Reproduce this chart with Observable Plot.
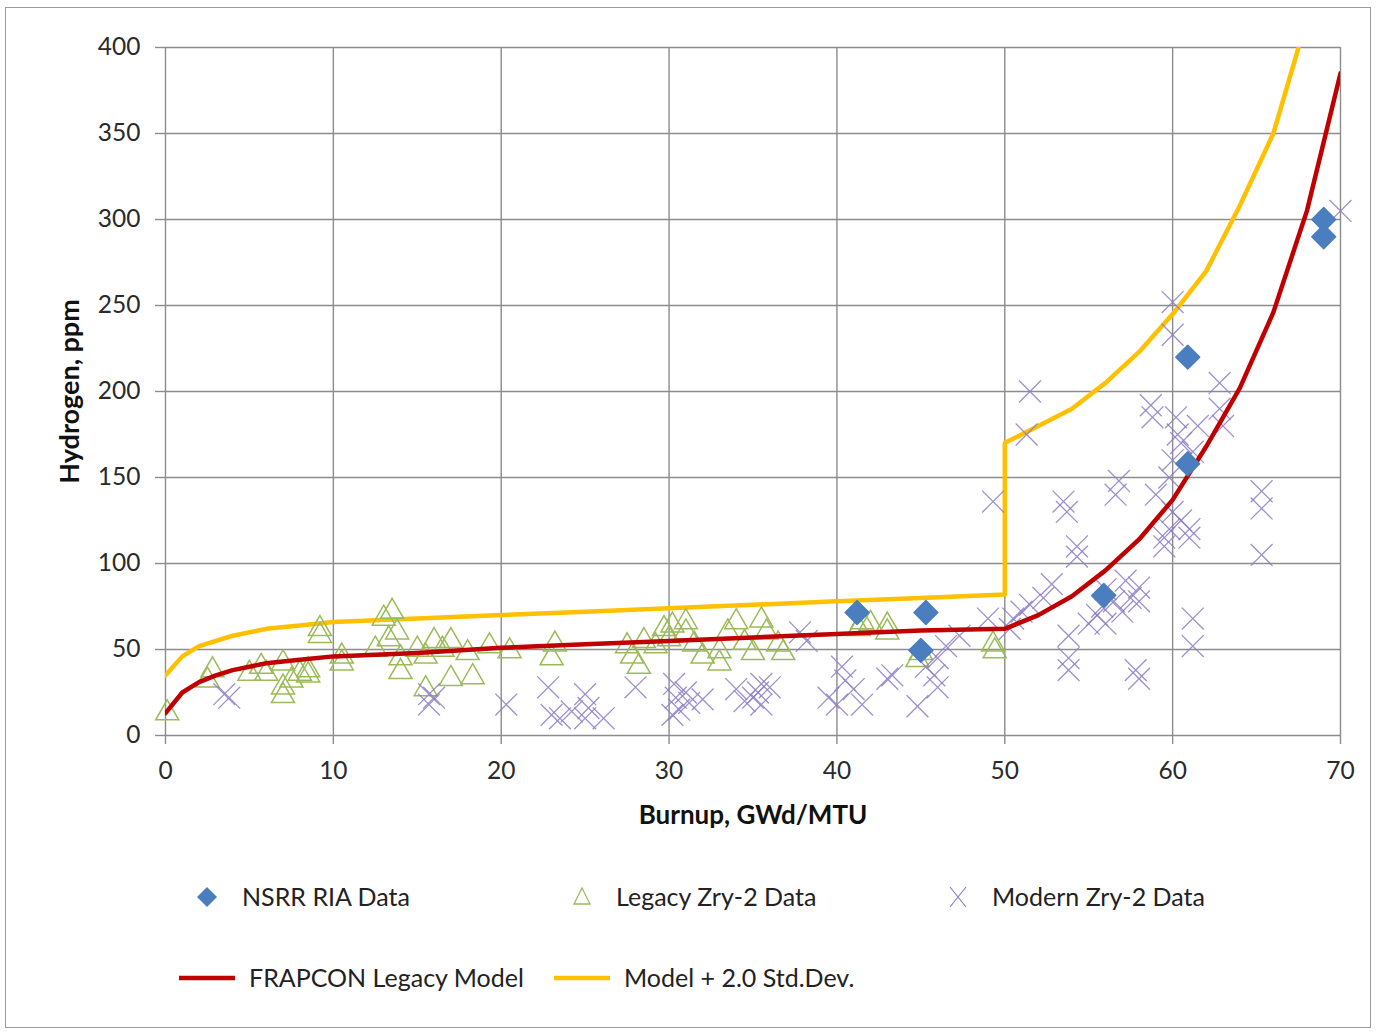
<!DOCTYPE html>
<html>
<head>
<meta charset="utf-8">
<script src="https://cdn.jsdelivr.net/npm/d3@7"></script>
<script src="https://cdn.jsdelivr.net/npm/@observablehq/plot@0.6"></script>
<style>
  html, body { margin: 0; padding: 0; background: #fff; }
  body { width: 1379px; height: 1034px; position: relative; overflow: hidden; font-family: Lato, "Open Sans", sans-serif; }
  #frame { position: absolute; left: 5px; top: 7px; width: 1366px; height: 1021px; border: 1px solid #9a9a9a; box-sizing: border-box; }
  #chart { position: absolute; left: 0; top: 0; }
  .leg { position: absolute; font-size: 25px; color: #222; white-space: nowrap; line-height: 1; }
  .legsym { position: absolute; }
</style>
</head>
<body>
<div id="frame"></div>
<div id="chart"></div>
<div id="legend"></div>
<script>
// ---- Tick labels ----
const xTicks = [0, 10, 20, 30, 40, 50, 60, 70];
const yTicks = [0, 50, 100, 150, 200, 250, 300, 350, 400];

// ---- Series: NSRR RIA Data (burnup, hydrogen) ----
const nsrrBurnup = [41.2, 45.3, 45.0, 55.9, 60.9, 60.9, 69.0, 69.0];
const nsrrH      = [71.5, 71.5, 49.5, 81.5, 220, 158, 300, 290];

// ---- Series: Legacy Zry-2 Data ----
const legacyBurnup = [0.1, 2.5, 2.8, 5.0, 5.7, 6.0, 7.0, 7.0, 7.0, 7.5, 8.0, 8.5, 8.5, 9.2, 9.2,
  10.5, 10.5, 12.5, 13.0, 13.5, 13.3, 13.8, 14.0, 14.0, 15.0, 15.5, 15.5, 16.0, 16.5, 17.0, 17.0,
  18.0, 18.3, 19.3, 20.5, 23.0, 23.2, 27.5, 27.8, 28.2, 28.5, 29.2, 29.7, 30.2, 30.0, 31.0, 31.0,
  31.5, 32.0, 33.0, 33.0, 33.5, 34.0, 34.5, 35.0, 35.5, 35.8, 36.5, 36.8, 41.3, 41.5, 42.0, 43.0,
  43.0, 44.8, 45.0, 49.3, 49.4];
const legacyH = [13, 32, 38, 36, 40, 36, 42, 28, 23, 32, 36, 38, 35, 62, 58,
  46, 42, 50, 68, 72, 56, 60, 45, 37, 50, 46, 27, 55, 50, 55, 33,
  48, 34, 52, 49, 45, 53, 52, 46, 40, 55, 52, 62, 64, 56, 66, 60,
  53, 46, 49, 42, 60, 66, 54, 48, 67, 60, 53, 48, 62, 66, 65, 60,
  64, 44, 48, 53, 49];

// ---- Series: Modern Zry-2 Data ----
const modernBurnup = [3.5, 3.8, 15.7, 15.7, 16.0, 20.3, 22.8, 23.0, 23.5, 24.2, 25.0, 25.2, 25.0, 26.1,
  28.0, 30.3, 30.4, 30.6, 31.0, 31.2, 32.0, 30.2, 34.0, 34.5, 35.0, 35.3, 35.5, 36.0, 35.5,
  37.8, 38.2, 39.5, 40.0, 40.3, 40.5, 41.0, 41.5, 43.0, 43.3, 44.8, 45.3, 45.8, 46.0, 46.0, 46.5,
  47.3, 49.0, 49.3, 50.3, 50.5, 51.0, 51.5, 51.5, 51.3, 52.3, 52.8, 53.5, 53.7, 53.8, 53.8, 53.8,
  54.3, 54.3, 55.0, 55.5, 55.8, 56.0, 56.5, 56.0, 56.6, 56.8, 57.2, 57.0, 57.5, 58.0, 58.0, 57.8,
  58.0, 58.7, 58.8, 59.0, 59.5, 59.5, 59.8, 59.8, 60.0, 60.0, 60.0, 60.0, 60.2, 60.3, 60.5, 60.5,
  61.0, 61.0, 61.2, 61.5, 61.2, 61.2, 62.8, 62.8, 63.0, 65.3, 65.3, 65.3, 70.0];
const modernH = [24, 22, 24, 18, 22, 18, 28, 12, 10, 14, 24, 16, 10, 10,
  28, 30, 22, 15, 25, 19, 21, 12, 27, 20, 22, 25, 30, 28, 18,
  60, 55, 22, 18, 40, 32, 27, 18, 33, 35, 17, 40, 35, 45, 28, 52,
  58, 68, 136, 62, 68, 72, 76, 200, 175, 80, 88, 136, 130, 58, 45, 38,
  110, 104, 65, 70, 75, 85, 78, 65, 140, 148, 90, 72, 80, 86, 78, 38,
  33, 192, 185, 140, 115, 110, 120, 150, 160, 130, 252, 233, 185, 175, 170, 125,
  115, 120, 165, 180, 68, 52, 205, 190, 180, 142, 132, 105, 305];

// ---- Lines: FRAPCON Legacy Model ----
const modelBurnup = [0, 1, 2, 3, 4, 5, 6, 8, 10, 15, 20, 25, 30, 35, 40, 45, 50, 52, 54, 56, 58, 60, 62, 64, 66, 68, 70];
const modelH      = [13, 25, 31, 35, 38, 40, 42, 44, 46, 48, 51, 53, 55, 57, 59, 61, 62, 70, 81, 96, 114, 137, 168, 202, 246, 305, 385];

// ---- Lines: Model + 2.0 Std.Dev. ----
const upperBurnup = [0, 1, 2, 4, 6, 8, 10, 15, 20, 25, 30, 35, 40, 45, 50, 50, 52, 54, 56, 58, 60, 62, 64, 66, 67.5];
const upperH      = [35, 46, 52, 58, 62, 64, 66, 68, 70, 72, 74, 76, 78, 80, 82, 170, 180, 190, 205, 223, 245, 270, 308, 350, 400];

const zip = (xs, ys) => xs.map((x, i) => ({x, y: ys[i]}));
const nsrr = zip(nsrrBurnup, nsrrH);
const legacy = zip(legacyBurnup, legacyH);
const modern = zip(modernBurnup, modernH);
const model = zip(modelBurnup, modelH);
const upper = zip(upperBurnup, upperH);

const C = {
  nsrr: "#4a7ebf",
  legacy: "#9bbb59",
  modern: "#8c7dc4",
  model: "#c00000",
  upper: "#ffc000",
  grid: "#8c8c8c"
};

const chart = Plot.plot({
  width: 1379,
  height: 835,
  marginLeft: 165,
  marginRight: 39,
  marginTop: 47,
  marginBottom: 100,
  x: {domain: [0, 70]},
  y: {domain: [0, 400]},
  style: {fontFamily: "Lato, 'Open Sans', sans-serif", fontSize: "24px", color: "#2a2a2a", background: "transparent"},
  marks: [
    Plot.gridX(xTicks, {stroke: C.grid, strokeOpacity: 1, strokeWidth: 1.4}),
    Plot.gridY(yTicks, {stroke: C.grid, strokeOpacity: 1, strokeWidth: 1.4}),
    Plot.axisX(xTicks, {tickSize: 9, tickPadding: 17, stroke: C.grid, strokeWidth: 1.4, label: null, fontSize: 24.5}),
    Plot.axisY(yTicks, {tickSize: 10, tickPadding: 15, stroke: C.grid, strokeWidth: 1.4, label: null, fontSize: 24.5}),
    Plot.text(["Burnup, GWd/MTU"], {frameAnchor: "bottom", dy: 88, fontWeight: "bold", fontSize: 26, fill: "#111"}),
    Plot.text(["Hydrogen, ppm"], {frameAnchor: "left", dx: -95, rotate: -90, textAnchor: "middle", fontWeight: "bold", fontSize: 27, fill: "#111"}),
    Plot.line(upper, {x: "x", y: "y", stroke: C.upper, strokeWidth: 4.5, clip: true}),
    Plot.dot(legacy, {x: "x", y: "y", symbol: "triangle2", r: 11, stroke: C.legacy, strokeWidth: 1.5, fill: "none"}),
    Plot.dot(modern, {x: "x", y: "y", symbol: "times", r: 10, stroke: C.modern, strokeWidth: 1.3, strokeOpacity: 0.85}),
    Plot.line(model, {x: "x", y: "y", stroke: C.model, strokeWidth: 4.5, clip: true}),
    Plot.dot(nsrr, {x: "x", y: "y", symbol: "square", rotate: 45, r: 9.5, fill: C.nsrr, stroke: C.nsrr, strokeWidth: 1.5, strokeLinejoin: "round"})
  ]
});
document.getElementById("chart").appendChild(chart);

// ---- Legend (HTML below the plot) ----
const legendItems = [
  {label: "NSRR RIA Data", kind: "diamond", color: C.nsrr, sx: 207, tx: 242, y: 897},
  {label: "Legacy Zry-2 Data", kind: "triangle", color: C.legacy, sx: 582, tx: 616, y: 897},
  {label: "Modern Zry-2 Data", kind: "times", color: C.modern, sx: 958, tx: 992, y: 897},
  {label: "FRAPCON Legacy Model", kind: "line", color: C.model, sx: 207, tx: 249, y: 978},
  {label: "Model + 2.0 Std.Dev.", kind: "line", color: C.upper, sx: 582, tx: 624, y: 978}
];
const leg = document.getElementById("legend");
for (const it of legendItems) {
  const svg = d3.create("svg").attr("class", "legsym").attr("width", 60).attr("height", 30)
    .style("left", (it.sx - 30) + "px").style("top", (it.y - 15) + "px");
  const g = svg.append("g").attr("transform", "translate(30,15)");
  if (it.kind === "diamond") {
    g.append("path").attr("d", "M0,-10L10,0L0,10L-10,0Z").attr("fill", it.color);
  } else if (it.kind === "triangle") {
    g.append("path").attr("d", "M0,-9L8,7L-8,7Z").attr("fill", "none").attr("stroke", it.color).attr("stroke-width", 1.3);
  } else if (it.kind === "times") {
    g.append("path").attr("d", "M-8,-10L8,10M8,-10L-8,10").attr("stroke", it.color).attr("stroke-width", 1.2);
  } else {
    g.append("line").attr("x1", -28).attr("x2", 28).attr("stroke", it.color).attr("stroke-width", 4.5);
  }
  leg.appendChild(svg.node());
  const t = document.createElement("div");
  t.className = "leg";
  t.textContent = it.label;
  t.style.left = it.tx + "px";
  t.style.top = (it.y - 13) + "px";
  leg.appendChild(t);
}
</script>
</body>
</html>
